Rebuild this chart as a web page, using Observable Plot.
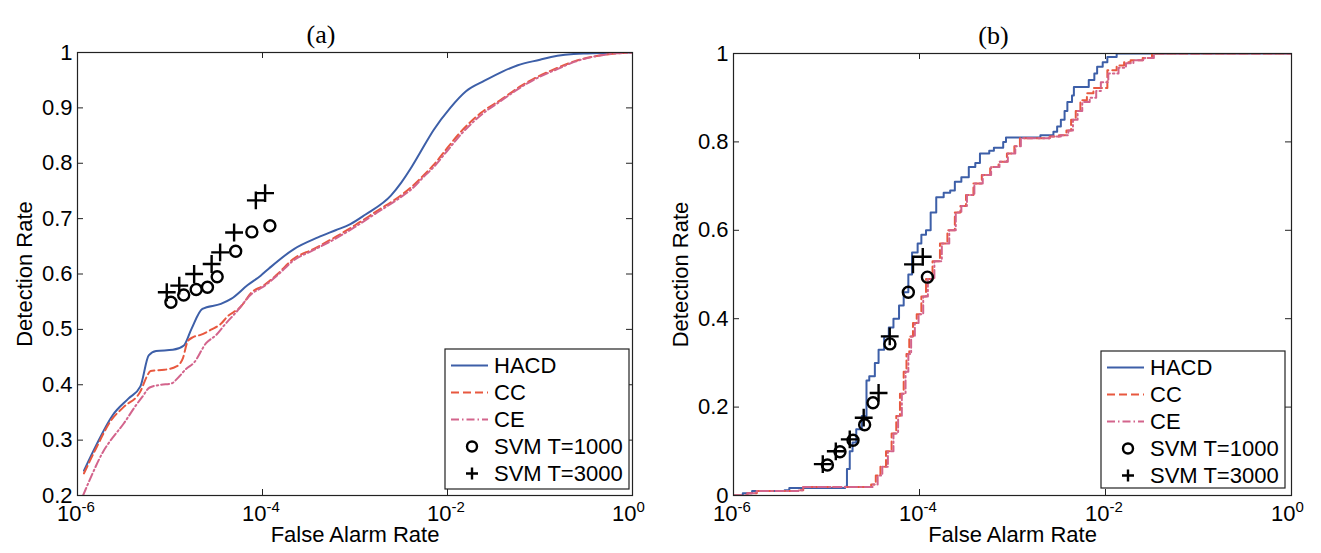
<!DOCTYPE html>
<html><head><meta charset="utf-8">
<script src="https://cdn.jsdelivr.net/npm/d3@7"></script>
<script src="https://cdn.jsdelivr.net/npm/@observablehq/plot@0.6"></script>
<style>
body{margin:0;background:#fff;}
#wrap{position:relative;width:1321px;height:553px;overflow:hidden;background:#fff;}
#wrap svg{position:absolute;top:0;}
</style></head><body><div id="wrap"></div>
<script>
// ---------- data ----------
const panelTitles = ["(a)", "(b)"];
const xTicks = [1e-6, 1e-4, 1e-2, 1];
const xTickExponents = ["-6", "-4", "-2", "0"];
const aYTicks = [0.2, 0.3, 0.4, 0.5, 0.6, 0.7, 0.8, 0.9, 1];
const bYTicks = [0, 0.2, 0.4, 0.6, 0.8, 1];
const legendLabels = ["HACD", "CC", "CE", "SVM T=1000", "SVM T=3000"];
const xLabel = "False Alarm Rate";
const yLabel = "Detection Rate";

// Panel (a): log10(false alarm rate) and detection rate
const aHACD_logFar = [-5.93,-5.80,-5.62,-5.45,-5.32,-5.23,-5.15,-4.97,-4.85,-4.77,-4.65,-4.45,-4.34,-4.16,-4.02,-3.93,-3.66,-3.40,-3.21,-3.05,-2.89,-2.61,-2.50,-2.40,-2.30,-2.15,-1.97,-1.80,-1.60,-1.40,-1.24,-1.00,-0.88,-0.53,0];
const aHACD_det    = [0.245,0.29,0.345,0.375,0.397,0.453,0.461,0.463,0.471,0.50,0.537,0.546,0.555,0.58,0.597,0.61,0.645,0.666,0.679,0.69,0.707,0.742,0.765,0.79,0.818,0.86,0.90,0.93,0.949,0.966,0.977,0.987,0.992,0.998,1.0];
const aCC_logFar = [-5.93,-5.80,-5.64,-5.50,-5.32,-5.25,-5.21,-5.06,-4.93,-4.86,-4.81,-4.75,-4.67,-4.55,-4.45,-4.38,-4.24,-4.11,-4.00,-3.85,-3.66,-3.45,-3.21,-3.00,-2.76,-2.52,-2.39,-2.26,-2.15,-2.00,-1.85,-1.63,-1.42,-1.20,-1.04,-0.80,-0.63,-0.34,0];
const aCC_det    = [0.24,0.285,0.335,0.36,0.388,0.415,0.425,0.427,0.433,0.448,0.478,0.486,0.49,0.50,0.51,0.523,0.54,0.568,0.578,0.598,0.628,0.645,0.667,0.688,0.714,0.74,0.757,0.778,0.797,0.828,0.858,0.892,0.915,0.94,0.955,0.973,0.984,0.995,1.0];
const aCE_logFar = [-5.94,-5.85,-5.72,-5.64,-5.50,-5.38,-5.30,-5.22,-5.10,-4.99,-4.90,-4.83,-4.74,-4.61,-4.50,-4.40,-4.29,-4.11,-4.00,-3.85,-3.66,-3.45,-3.21,-3.00,-2.76,-2.52,-2.39,-2.26,-2.15,-2.00,-1.85,-1.63,-1.42,-1.20,-1.04,-0.80,-0.63,-0.34,0];
const aCE_det    = [0.20,0.235,0.28,0.30,0.33,0.36,0.378,0.395,0.40,0.402,0.415,0.428,0.44,0.475,0.49,0.51,0.53,0.565,0.576,0.596,0.625,0.643,0.664,0.685,0.711,0.737,0.753,0.775,0.793,0.823,0.853,0.888,0.913,0.938,0.953,0.971,0.983,0.995,1.0];
const aSVM1000_logFar = [-4.99,-4.852,-4.717,-4.595,-4.49,-4.29,-4.115,-3.92];
const aSVM1000_det    = [0.549,0.562,0.572,0.576,0.595,0.641,0.676,0.687];
const aSVM3000_logFar = [-5.035,-4.90,-4.739,-4.55,-4.458,-4.307,-4.072,-3.972];
const aSVM3000_det    = [0.567,0.579,0.600,0.618,0.639,0.675,0.733,0.746];

// Panel (b)
const bHACD_logFar = [-6.0,-5.9,-5.8,-5.45,-5.4,-4.8,-4.78,-4.75,-4.72,-4.68,-4.62,-4.57,-4.54,-4.48,-4.44,-4.38,-4.33,-4.28,-4.22,-4.17,-4.12,-4.08,-4.02,-3.98,-3.93,-3.88,-3.82,-3.74,-3.67,-3.62,-3.55,-3.47,-3.40,-3.35,-3.25,-3.20,-3.10,-3.07,-2.70,-2.56,-2.52,-2.48,-2.44,-2.41,-2.36,-2.34,-2.18,-2.12,-2.09,-2.03,-1.98,-1.88,0];
const bHACD_det    = [0,0.005,0.01,0.012,0.017,0.02,0.06,0.10,0.12,0.15,0.18,0.26,0.27,0.30,0.33,0.36,0.38,0.40,0.43,0.46,0.50,0.55,0.57,0.59,0.60,0.64,0.675,0.685,0.69,0.71,0.72,0.743,0.752,0.774,0.78,0.787,0.80,0.81,0.815,0.823,0.835,0.85,0.87,0.89,0.905,0.924,0.94,0.955,0.97,0.98,0.992,1.0,1.0];
const bCC_logFar = [-6.0,-5.85,-5.75,-5.3,-5.25,-4.57,-4.52,-4.47,-4.42,-4.36,-4.30,-4.25,-4.21,-4.17,-4.14,-4.11,-4.07,-4.03,-3.98,-3.93,-3.86,-3.78,-3.70,-3.62,-3.56,-3.50,-3.42,-3.33,-3.24,-3.15,-3.06,-2.98,-2.92,-2.60,-2.50,-2.42,-2.37,-2.32,-2.27,-2.20,-2.13,-2.02,-1.98,-1.88,-1.80,-1.73,-1.60,-1.50,0];
const bCC_det    = [0,0.005,0.01,0.012,0.019,0.019,0.025,0.045,0.065,0.10,0.14,0.18,0.23,0.28,0.32,0.36,0.39,0.41,0.45,0.49,0.53,0.57,0.60,0.64,0.655,0.68,0.706,0.725,0.743,0.755,0.774,0.79,0.808,0.812,0.815,0.826,0.85,0.87,0.894,0.91,0.922,0.922,0.962,0.973,0.98,0.985,0.99,1.0,1.0];
const bCE_logFar = [-6.0,-5.85,-5.75,-5.3,-5.25,-4.55,-4.50,-4.45,-4.40,-4.34,-4.28,-4.23,-4.19,-4.15,-4.12,-4.09,-4.05,-4.01,-3.96,-3.91,-3.84,-3.76,-3.68,-3.61,-3.55,-3.49,-3.41,-3.32,-3.23,-3.14,-3.05,-2.97,-2.91,-2.60,-2.48,-2.40,-2.35,-2.30,-2.25,-2.17,-2.10,-2.05,-1.97,-1.86,-1.78,-1.70,-1.58,-1.48,0];
const bCE_det    = [0,0.005,0.01,0.012,0.019,0.019,0.025,0.045,0.065,0.10,0.14,0.18,0.23,0.28,0.32,0.36,0.39,0.41,0.45,0.49,0.53,0.57,0.60,0.64,0.655,0.68,0.706,0.725,0.743,0.755,0.774,0.79,0.808,0.812,0.815,0.826,0.85,0.87,0.89,0.90,0.915,0.935,0.955,0.968,0.978,0.985,0.99,1.0,1.0];
const bSVM1000_logFar = [-4.99,-4.855,-4.715,-4.59,-4.50,-4.318,-4.12,-3.915];
const bSVM1000_det    = [0.069,0.099,0.125,0.16,0.21,0.343,0.46,0.494];
const bSVM3000_logFar = [-5.04,-4.90,-4.75,-4.60,-4.44,-4.32,-4.07,-3.965];
const bSVM3000_det    = [0.071,0.10,0.127,0.176,0.232,0.36,0.523,0.54];

// ---------- styling ----------
const FONT = "'Liberation Sans', Arial, Helvetica, sans-serif";
const SERIF = "'Liberation Serif', 'Times New Roman', serif";
const colors = {HACD: "#3d5fa8", CC: "#e8583f", CE: "#d3648c"};
const dashes = {HACD: null, CC: "8,4", CE: "8,3,1.5,3"};

function pts(lx, ys) { return lx.map((v, i) => ({x: 10 ** v, y: ys[i]})); }

function panel(cfg) {
  const innerW = cfg.width - cfg.ml - cfg.mr;
  const innerH = cfg.height - cfg.mt - cfg.mb;
  const lineMarks = cfg.series.map(s => Plot.line(s.data, {
    x: "x", y: "y", stroke: colors[s.name], strokeWidth: 2,
    strokeDasharray: dashes[s.name], curve: cfg.curve, clip: true
  }));
  const plot = Plot.plot({
    width: cfg.width, height: cfg.height,
    marginLeft: cfg.ml, marginRight: cfg.mr, marginTop: cfg.mt, marginBottom: cfg.mb,
    style: {fontFamily: FONT, background: "white", color: "black", overflow: "visible"},
    x: {type: "log", domain: [1e-6, 1], axis: null},
    y: {domain: cfg.yDomain, axis: null},
    marks: [
      ...lineMarks,
      Plot.dot(cfg.svm1000, {x: "x", y: "y", r: 5.5, stroke: "black", strokeWidth: 2.4, fill: "none"}),
      Plot.dot(cfg.svm3000, {x: "x", y: "y", r: 5.8, symbol: "plus", stroke: "black", strokeWidth: 2.4}),
      Plot.frame({stroke: "#222", strokeWidth: 1.2}),
      // inward ticks (MATLAB box style)
      Plot.tickX(xTicks, {x: d => d, insetTop: innerH - 6, stroke: "#222"}),
      Plot.tickX(xTicks, {x: d => d, insetBottom: innerH - 6, stroke: "#222"}),
      Plot.tickY(cfg.yTicks, {y: d => d, insetRight: innerW - 6, stroke: "#222"}),
      Plot.tickY(cfg.yTicks, {y: d => d, insetLeft: innerW - 6, stroke: "#222"}),
      Plot.text(cfg.yTicks, {y: d => d, text: d => String(d), frameAnchor: "left", dx: -5, textAnchor: "end", fontSize: 22}),
      Plot.text(xTicks, {x: d => d, text: () => "10", frameAnchor: "bottom", dy: 25, dx: 4, textAnchor: "end", fontSize: 22}),
      Plot.text(xTicks, {x: d => d, text: (d, i) => xTickExponents[i], frameAnchor: "bottom", dy: 16.5, dx: 4, textAnchor: "start", fontSize: 15}),
      Plot.text([xLabel], {text: d => d, frameAnchor: "bottom", dy: 46, textAnchor: "middle", fontSize: 22}),
      Plot.text([yLabel], {text: d => d, frameAnchor: "left", dx: -53, rotate: -90, textAnchor: "middle", fontSize: 22}),
      Plot.text([cfg.title], {text: d => d, frameAnchor: "top", dy: -28, dx: cfg.titleDx, textAnchor: "middle", fontFamily: SERIF, fontSize: 26})
    ]
  });
  addLegend(plot, cfg.legendBox);
  plot.style.left = cfg.left + "px";
  return plot;
}

function addLegend(svg, box) {
  const g = d3.select(svg).append("g").attr("font-family", FONT).attr("font-size", 22)
    .attr("text-anchor", "start");
  g.append("rect").attr("x", box.x).attr("y", box.y).attr("width", box.w).attr("height", box.h)
    .attr("fill", "white").attr("stroke", "#222").attr("stroke-width", 1.2);
  legendLabels.forEach((lab, i) => {
    const cy = box.y + 16.5 + 27 * i;
    if (i < 3) {
      g.append("line").attr("x1", box.x + 6).attr("x2", box.x + 43).attr("y1", cy).attr("y2", cy)
        .attr("stroke", colors[lab]).attr("stroke-width", 2)
        .attr("stroke-dasharray", dashes[lab]);
    } else if (i === 3) {
      g.append("circle").attr("cx", box.x + 27).attr("cy", cy).attr("r", 5)
        .attr("fill", "none").attr("stroke", "black").attr("stroke-width", 2.4);
    } else {
      g.append("path").attr("d", `M${box.x + 21},${cy}h12M${box.x + 27},${cy - 6}v12`)
        .attr("stroke", "black").attr("stroke-width", 2.4);
    }
    g.append("text").attr("x", box.x + 49).attr("y", cy).attr("dy", "0.35em")
      .attr("text-anchor", "start").attr("font-size", 22).text(lab);
  });
}

const wrap = document.getElementById("wrap");
wrap.appendChild(panel({
  left: 0, width: 660, height: 553, ml: 77, mr: 28, mt: 52, mb: 58,
  yDomain: [0.2, 1], yTicks: aYTicks, curve: "monotone-x", title: panelTitles[0], titleDx: -34,
  series: [
    {name: "HACD", data: pts(aHACD_logFar, aHACD_det)},
    {name: "CC", data: pts(aCC_logFar, aCC_det)},
    {name: "CE", data: pts(aCE_logFar, aCE_det)}
  ],
  svm1000: pts(aSVM1000_logFar, aSVM1000_det),
  svm3000: pts(aSVM3000_logFar, aSVM3000_det),
  legendBox: {x: 445, y: 349, w: 184, h: 140}
}));
wrap.appendChild(panel({
  left: 660, width: 661, height: 553, ml: 73, mr: 30, mt: 53, mb: 58,
  yDomain: [0, 1], yTicks: bYTicks, curve: "step-after", title: panelTitles[1], titleDx: -19,
  series: [
    {name: "HACD", data: pts(bHACD_logFar, bHACD_det)},
    {name: "CC", data: pts(bCC_logFar, bCC_det)},
    {name: "CE", data: pts(bCE_logFar, bCE_det)}
  ],
  svm1000: pts(bSVM1000_logFar, bSVM1000_det),
  svm3000: pts(bSVM3000_logFar, bSVM3000_det),
  legendBox: {x: 441, y: 351, w: 184, h: 137}
}));
</script></body></html>
